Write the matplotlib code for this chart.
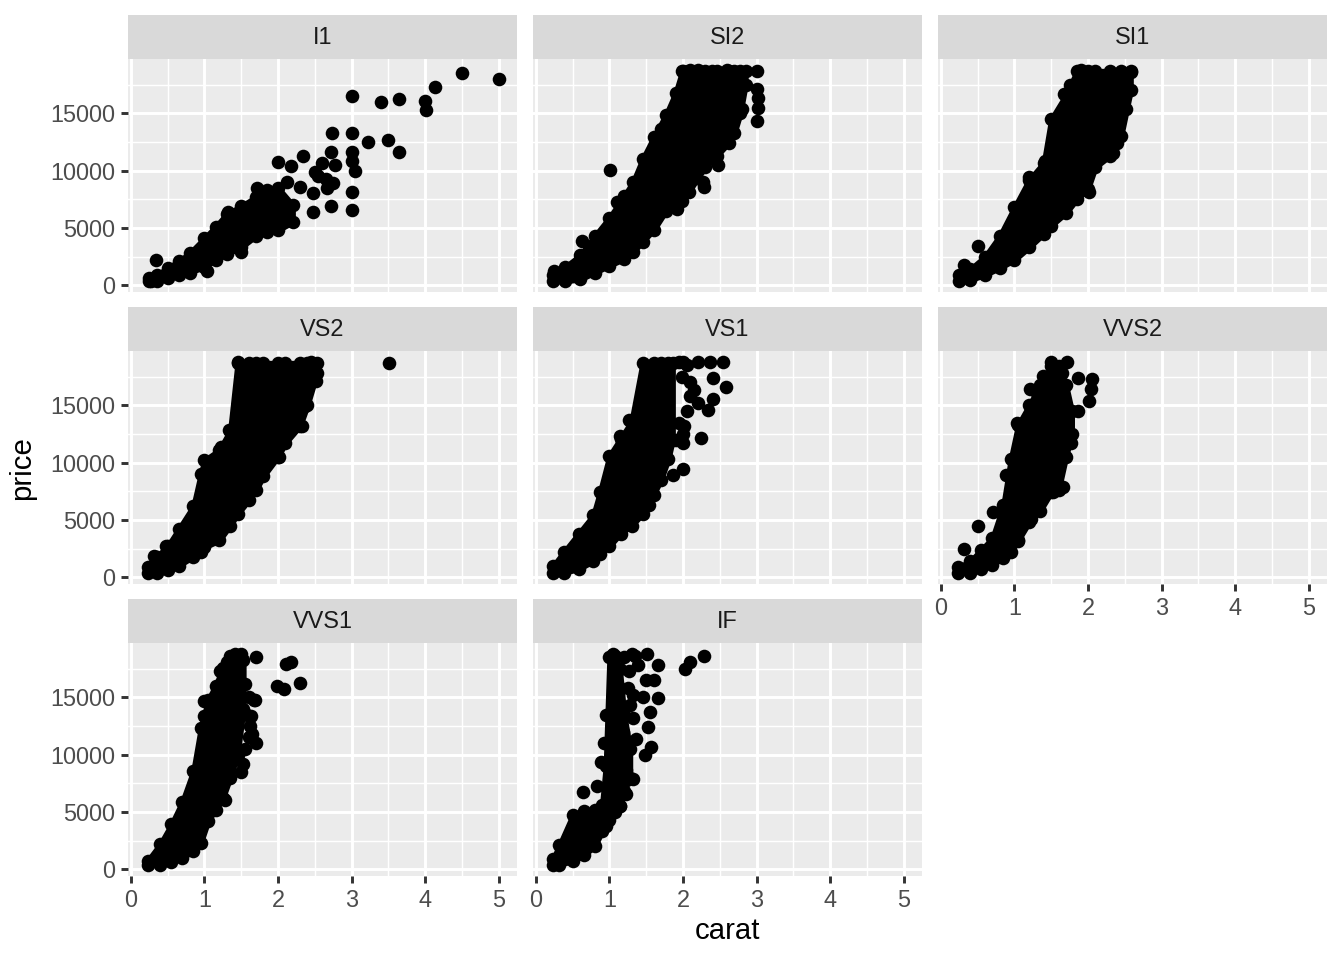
import matplotlib.pyplot as plt

plt.rcParams["font.family"] = ["Liberation Sans", "DejaVu Sans"]

# diamonds: price vs carat, one panel per clarity
clarity = ["I1", "SI2", "SI1", "VS2", "VS1", "VVS2", "VVS1", "IF"]

# dense part of each cloud as (carat, lower price, upper price)
i1_band_carat = [0.25, 0.35, 0.5, 0.65, 0.8, 1.0, 1.15, 1.3, 1.5, 1.7, 1.85, 2.0, 2.2]
i1_band_lo = [330, 400, 600, 850, 1100, 1600, 2200, 2700, 3300, 4300, 4600, 4800, 5500]
i1_band_hi = [600, 900, 1500, 2100, 2800, 4100, 5100, 6200, 6900, 7700, 8300, 8500, 7000]

si2_band_carat = [0.23, 0.4, 0.6, 0.8, 1.0, 1.2, 1.32, 1.45, 1.6, 1.77, 1.9, 1.99, 2.08, 2.3, 2.46, 2.62, 2.7, 2.78, 2.85]
si2_band_lo = [330, 350, 500, 1100, 1700, 2300, 2880, 3800, 4800, 6500, 7000, 7350, 8170, 10300, 11300, 12400, 13300, 15000, 17500]
si2_band_hi = [900, 1600, 2600, 4300, 5900, 7800, 9000, 11000, 12900, 14900, 16800, 18700, 18700, 18700, 18700, 18700, 18700, 18700, 18700]

si1_band_carat = [0.25, 0.4, 0.6, 0.8, 1.0, 1.2, 1.4, 1.5, 1.7, 1.85, 2.0, 2.1, 2.3, 2.45, 2.58]
si1_band_lo = [330, 450, 900, 1500, 2200, 3300, 4500, 5200, 6300, 7500, 8400, 10300, 11300, 13000, 17000]
si1_band_hi = [850, 1400, 2500, 4300, 6800, 9200, 10700, 14500, 16600, 18700, 18700, 18700, 18700, 18700, 18700]

vs2_band_carat = [0.23, 0.35, 0.5, 0.65, 0.85, 0.95, 1.0, 1.2, 1.35, 1.45, 1.6, 1.7, 1.8, 2.0, 2.1, 2.3, 2.4, 2.53]
vs2_band_lo = [330, 400, 600, 1000, 1800, 2200, 2600, 3200, 4500, 5500, 6700, 7600, 8800, 10500, 11700, 13200, 15000, 17800]
vs2_band_hi = [850, 1800, 2700, 4200, 6200, 9000, 10200, 11100, 12800, 18700, 18700, 18700, 18700, 18700, 18700, 18700, 18700, 18700]

vs1_band_carat = [0.23, 0.38, 0.58, 0.78, 0.87, 1.0, 1.15, 1.3, 1.45, 1.6, 1.7, 1.8, 1.86]
vs1_band_lo = [330, 400, 700, 1400, 2000, 2700, 3800, 4500, 5500, 7200, 8500, 10300, 12000]
vs1_band_hi = [950, 2200, 3800, 5400, 7400, 10600, 12100, 13600, 18700, 18700, 18700, 18700, 18700]

vvs2_band_carat = [0.23, 0.4, 0.55, 0.7, 0.85, 0.95, 1.05, 1.2, 1.35, 1.5, 1.6, 1.7, 1.78]
vvs2_band_lo = [330, 400, 700, 1100, 1700, 2200, 3200, 4800, 5800, 7400, 7600, 10500, 12500]
vvs2_band_hi = [850, 1400, 2400, 3400, 6300, 10300, 13300, 15000, 16800, 18400, 18400, 16800, 14500]

vvs1_band_carat = [0.23, 0.4, 0.55, 0.7, 0.85, 0.95, 1.05, 1.15, 1.25, 1.35, 1.45, 1.53]
vvs1_band_lo = [330, 400, 650, 1000, 1600, 2300, 4200, 5200, 6200, 8000, 10000, 14000]
vvs1_band_hi = [750, 2200, 3900, 5900, 8600, 12300, 14800, 16000, 17600, 18600, 18600, 18300]

if_band_carat = [0.23, 0.32, 0.5, 0.65, 0.8, 0.9, 0.95, 1.0, 1.08, 1.14, 1.2, 1.28]
if_band_lo = [330, 400, 700, 1200, 2000, 3300, 3800, 4300, 5000, 5500, 6800, 8000]
if_band_hi = [850, 2100, 4700, 5100, 5200, 5600, 9000, 18500, 18600, 17500, 13500, 10500]

# single diamonds outside the dense part
i1_pts_carat = [4.5, 5.01, 4.13, 3.01, 3.4, 3.65, 4.0, 4.01, 2.74, 3.0, 3.22, 3.5, 3.65, 2.34, 2.72, 3.0, 3.0,
                3.05, 3.0, 3.0, 2.72, 2.48, 2.48, 2.66, 2.75, 2.5, 2.6, 2.77, 2.0, 2.18, 2.3, 2.12, 1.72, 1.32,
                1.5, 1.03, 0.34, 0.27, 2.55, 2.65]
i1_pts_price = [18531, 18018, 17329, 16538, 16000, 16230, 16080, 15300, 13260, 13260, 12500, 12650, 11670, 11260,
                11670, 11670, 10880, 9950, 8100, 6580, 6940, 6400, 8030, 8470, 8900, 9880, 10670, 10530, 10760,
                10380, 8610, 9050, 8470, 6400, 2880, 1260, 2230, 380, 9500, 9300]

si2_pts_carat = [3.01, 3.01, 3.02, 3.02, 3.01, 1.01, 2.27, 2.28, 1.92, 0.62, 1.27, 2.47, 2.8, 0.24, 2.0, 2.1,
                 2.2, 2.4, 2.6, 2.78, 1.1, 1.7]
si2_pts_price = [18700, 17140, 16300, 15500, 14350, 10030, 9050, 8600, 6640, 3820, 2880, 10530, 15380, 1260,
                 18700, 18750, 18800, 18700, 18750, 18600, 7300, 13600]

si1_pts_carat = [0.31, 0.51, 2.52, 2.4, 2.34, 2.02, 2.58, 1.41, 1.68, 1.2, 1.75, 1.9]
si1_pts_price = [1760, 3410, 15380, 12440, 11550, 8170, 18600, 10820, 16700, 9400, 17500, 18800]

vs2_pts_carat = [3.51, 2.33, 2.37, 2.51, 0.31, 2.02, 1.23, 0.47, 1.34, 1.45, 2.45]
vs2_pts_price = [18701, 13170, 14930, 17140, 1850, 10530, 11400, 2730, 12880, 18800, 18800]

vs1_pts_carat = [2.55, 2.59, 2.41, 2.34, 2.24, 2.0, 2.0, 1.86, 1.54, 2.2, 2.37, 2.41, 2.2, 2.02, 1.27, 1.14,
                 1.95, 2.0, 2.05, 1.98, 2.1, 2.15, 2.05, 1.95, 2.0, 2.1, 1.9]
vs1_pts_price = [18800, 16640, 15520, 14580, 12140, 9410, 11700, 8900, 6260, 18800, 18760, 17430, 15230, 13170,
                 13760, 12290, 18800, 18800, 18500, 17500, 17000, 16300, 14500, 13500, 12500, 15800, 12000]

vvs2_pts_carat = [1.5, 1.72, 1.86, 2.06, 2.04, 2.02, 1.86, 1.77, 1.66, 1.52, 1.23, 1.05, 0.78, 0.31, 0.51,
                  0.71, 0.89, 1.03, 1.21, 1.39, 1.3, 1.65]
vvs2_pts_price = [18800, 18800, 17430, 17290, 16400, 15380, 14490, 11700, 7880, 7440, 5090, 3180, 2000, 2440,
                  4500, 5670, 8910, 13460, 16400, 17580, 16100, 17800]

vvs1_pts_carat = [2.11, 2.17, 1.99, 2.08, 2.3, 1.7, 1.5, 1.41, 1.69, 1.63, 1.7, 1.5, 1.28, 1.3, 1.21, 1.0,
                  1.0, 1.52, 1.55, 1.6, 1.62, 1.58, 1.6, 1.55, 1.68, 1.65]
vvs1_pts_price = [17900, 18110, 15990, 15700, 16230, 18490, 18800, 18790, 14760, 13350, 11000, 8500, 6000,
                  18050, 17320, 14670, 13350, 9200, 10500, 11500, 12500, 13500, 15000, 16200, 14800, 11800]

if_pts_carat = [2.29, 2.09, 2.03, 1.51, 1.3, 1.05, 1.66, 1.61, 1.66, 1.55, 1.53, 1.57, 1.48, 1.32, 1.23, 1.14,
                0.64, 0.83, 0.89, 1.26, 1.39, 1.25, 1.32, 1.28, 1.32, 1.36, 1.18, 1.23, 1.18, 1.27, 1.2,
                1.15, 1.45, 1.5, 1.35, 1.2, 0.92, 0.95, 1.12]
if_pts_price = [18640, 18050, 17460, 18800, 18790, 18790, 17870, 16550, 14930, 13760, 12440, 10670, 9940, 7880,
                6560, 5530, 6700, 7290, 9350, 17280, 17870, 15800, 15200, 14350, 13170, 11400, 12000, 8700,
                7900, 7900, 10500, 9000, 15000, 16500, 18600, 18500, 11000, 13500, 16000]

bands = [
    (i1_band_carat, i1_band_lo, i1_band_hi),
    (si2_band_carat, si2_band_lo, si2_band_hi),
    (si1_band_carat, si1_band_lo, si1_band_hi),
    (vs2_band_carat, vs2_band_lo, vs2_band_hi),
    (vs1_band_carat, vs1_band_lo, vs1_band_hi),
    (vvs2_band_carat, vvs2_band_lo, vvs2_band_hi),
    (vvs1_band_carat, vvs1_band_lo, vvs1_band_hi),
    (if_band_carat, if_band_lo, if_band_hi),
]
points = [
    (i1_pts_carat, i1_pts_price),
    (si2_pts_carat, si2_pts_price),
    (si1_pts_carat, si1_pts_price),
    (vs2_pts_carat, vs2_pts_price),
    (vs1_pts_carat, vs1_pts_price),
    (vvs2_pts_carat, vvs2_pts_price),
    (vvs1_pts_carat, vvs1_pts_price),
    (if_pts_carat, if_pts_price),
]

W, H = 1344, 960
fig = plt.figure(figsize=(7, 5), dpi=192)

col_left = [128, 533, 938]
panel_w = 389
row_strip_top = [15, 307, 599]
strip_h = 44
panel_h = 233
dot = 26


def box(x0, y0, w, h):
    return [x0 / W, 1 - (y0 + h) / H, w / W, h / H]


for i, name in enumerate(clarity):
    row, col = divmod(i, 3)
    x0 = col_left[col]
    y_strip = row_strip_top[row]
    ax = fig.add_axes(box(x0, y_strip + strip_h, panel_w, panel_h))
    ax.set_facecolor("#EBEBEB")
    ax.set_xlim(-0.04, 5.25)
    ax.set_ylim(-599, 19748)
    ax.set_xticks([0, 1, 2, 3, 4, 5])
    ax.set_xticks([0.5, 1.5, 2.5, 3.5, 4.5], minor=True)
    ax.set_yticks([0, 5000, 10000, 15000])
    ax.set_yticks([2500, 7500, 12500, 17500], minor=True)
    ax.grid(which="major", color="white", linewidth=1.1)
    ax.grid(which="minor", color="white", linewidth=0.55)
    ax.set_axisbelow(True)
    for s in ax.spines.values():
        s.set_visible(False)

    # dense cloud: filled band, with dots on its edges so the outline stays bumpy
    bc, blo, bhi = bands[i]
    poly = ax.fill_between(bc, blo, bhi, facecolor="black", edgecolor="black", linewidth=2.0, zorder=2)
    poly.set_joinstyle("round")
    ax.scatter(bc, blo, s=dot, color="black", linewidths=0, zorder=3)
    ax.scatter(bc, bhi, s=dot, color="black", linewidths=0, zorder=3)
    pc, pp = points[i]
    ax.scatter(pc, pp, s=dot, color="black", linewidths=0, zorder=3)

    show_x = (row == 2) or (row == 1 and col == 2)
    show_y = col == 0
    ax.tick_params(which="minor", length=0)
    ax.tick_params(which="major", length=2.75, width=1.1, color="#333333",
                   labelsize=8.8, labelcolor="#4D4D4D", pad=2.2)
    ax.tick_params(axis="x", bottom=show_x, labelbottom=show_x)
    ax.tick_params(axis="y", left=show_y, labelleft=show_y)

    sax = fig.add_axes(box(x0, y_strip, panel_w, strip_h))
    sax.set_facecolor("#D9D9D9")
    sax.set_xticks([])
    sax.set_yticks([])
    for s in sax.spines.values():
        s.set_visible(False)
    sax.text(0.5, 0.5, name, ha="center", va="center", fontsize=8.8, color="#1A1A1A",
             transform=sax.transAxes)

fig.text(22 / W, 1 - 468 / H, "price", rotation=90, ha="center", va="center", fontsize=11)
fig.text(727.5 / W, 1 - 931 / H, "carat", ha="center", va="center", fontsize=11)

fig.savefig("out.png", dpi=192)
